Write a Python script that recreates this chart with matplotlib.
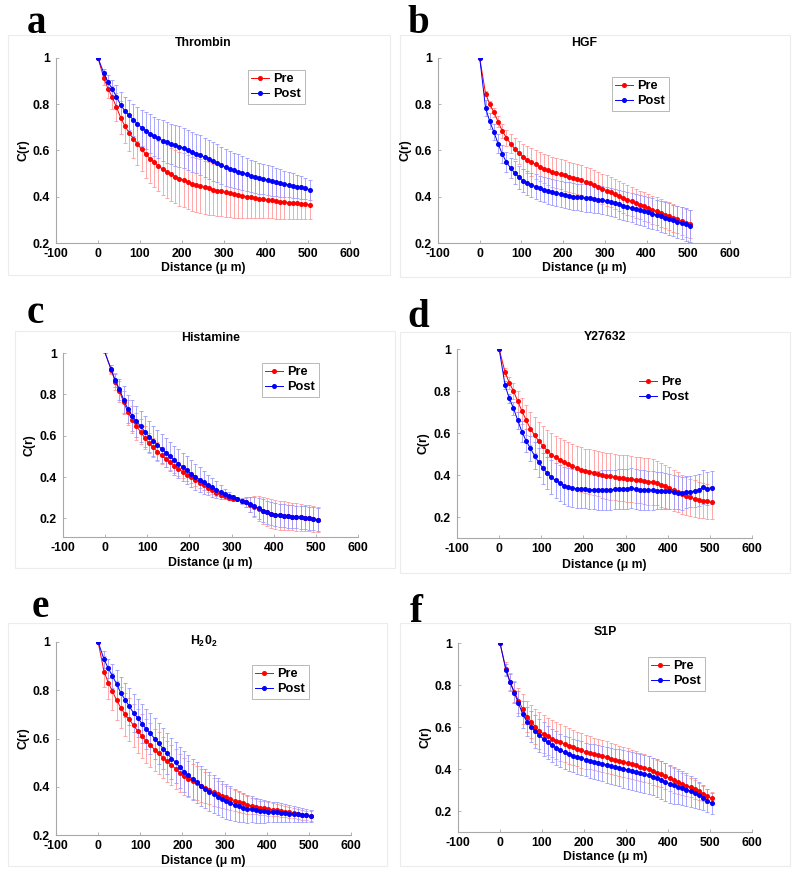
import matplotlib
matplotlib.use('Agg')
import matplotlib.pyplot as plt
from matplotlib.patches import Rectangle

plt.rcParams['font.family'] = ['Liberation Sans', 'DejaVu Sans']
plt.rcParams['font.weight'] = 'bold'
plt.rcParams['axes.unicode_minus'] = False
plt.rcParams['mathtext.fontset'] = 'custom'
plt.rcParams['mathtext.rm'] = 'Liberation Sans:bold'
plt.rcParams['mathtext.bf'] = 'Liberation Sans:bold'
plt.rcParams['mathtext.default'] = 'bf'

W, H = 795, 872

# distance grid (um)
distance = [0, 14, 24, 34, 44, 54, 64, 74, 84, 94, 104, 114, 124, 134, 144, 154, 164, 174, 184, 194, 204,
            214, 224, 234, 244, 254, 264, 274, 284, 294, 304, 314, 324, 334, 344, 354, 364, 374, 384, 394, 404,
            414, 424, 434, 444, 454, 464, 474, 484, 494, 504]

# a - Thrombin
a_pre = [1.0, 0.912, 0.867, 0.830, 0.787, 0.742, 0.706, 0.677, 0.651, 0.627, 0.605,
         0.583, 0.565, 0.549, 0.533, 0.519, 0.508, 0.497, 0.487, 0.478, 0.471,
         0.464, 0.457, 0.451, 0.446, 0.441, 0.436, 0.431, 0.427, 0.423, 0.419,
         0.415, 0.411, 0.408, 0.404, 0.401, 0.398, 0.395, 0.392, 0.389, 0.386,
         0.384, 0.381, 0.379, 0.377, 0.375, 0.373, 0.371, 0.369, 0.367, 0.366]
a_pre_err = [0, 0.03, 0.04, 0.05, 0.06, 0.07, 0.075, 0.08, 0.085, 0.09, 0.095,
             0.10, 0.104, 0.107, 0.11, 0.112, 0.114, 0.115, 0.116, 0.117, 0.117,
             0.117, 0.117, 0.116, 0.116, 0.115, 0.114, 0.112, 0.11, 0.108, 0.106,
             0.104, 0.102, 0.10, 0.098, 0.095, 0.092, 0.089, 0.086, 0.083, 0.08,
             0.078, 0.076, 0.074, 0.072, 0.07, 0.068, 0.066, 0.064, 0.063, 0.062]
a_post = [1.0, 0.934, 0.895, 0.867, 0.832, 0.797, 0.771, 0.752, 0.733, 0.715, 0.699,
          0.686, 0.673, 0.662, 0.652, 0.643, 0.635, 0.628, 0.622, 0.616, 0.611,
          0.603, 0.595, 0.587, 0.579, 0.571, 0.562, 0.553, 0.545, 0.536, 0.527,
          0.520, 0.514, 0.508, 0.502, 0.497, 0.491, 0.486, 0.481, 0.477, 0.472,
          0.468, 0.464, 0.460, 0.456, 0.452, 0.448, 0.444, 0.440, 0.436, 0.431]
a_post_err = [0, 0.02, 0.03, 0.04, 0.05, 0.055, 0.06, 0.065, 0.07, 0.075, 0.078,
              0.081, 0.083, 0.085, 0.086, 0.087, 0.088, 0.088, 0.088, 0.088, 0.088,
              0.087, 0.087, 0.086, 0.086, 0.085, 0.084, 0.083, 0.082, 0.081, 0.08,
              0.079, 0.077, 0.076, 0.074, 0.072, 0.07, 0.069, 0.067, 0.066, 0.065,
              0.063, 0.061, 0.059, 0.057, 0.055, 0.053, 0.05, 0.048, 0.045, 0.043]

# b - HGF
b_pre = [1.0, 0.846, 0.80, 0.765, 0.725, 0.685, 0.655, 0.63, 0.608, 0.59, 0.573,
         0.56, 0.55, 0.54, 0.53, 0.522, 0.515, 0.508, 0.502, 0.497, 0.492,
         0.487, 0.482, 0.477, 0.471, 0.465, 0.458, 0.451, 0.443, 0.435, 0.427,
         0.419, 0.411, 0.403, 0.395, 0.387, 0.38, 0.372, 0.365, 0.358, 0.351,
         0.344, 0.337, 0.33, 0.323, 0.316, 0.309, 0.302, 0.295, 0.288, 0.281]
b_pre_err = [0, 0.01, 0.015, 0.02, 0.025, 0.03, 0.035, 0.04, 0.045, 0.05, 0.055,
             0.058, 0.06, 0.062, 0.063, 0.064, 0.065, 0.065, 0.065, 0.065, 0.065,
             0.065, 0.065, 0.065, 0.065, 0.065, 0.065, 0.065, 0.065, 0.065, 0.065,
             0.065, 0.065, 0.065, 0.064, 0.064, 0.063, 0.063, 0.062, 0.062, 0.061,
             0.061, 0.061, 0.06, 0.06, 0.06, 0.06, 0.06, 0.06, 0.06, 0.06]
b_post = [1.0, 0.784, 0.726, 0.68, 0.63, 0.585, 0.55, 0.524, 0.503, 0.485, 0.47,
          0.46, 0.452, 0.444, 0.437, 0.431, 0.425, 0.42, 0.415, 0.411, 0.407,
          0.404, 0.401, 0.399, 0.397, 0.395, 0.393, 0.391, 0.388, 0.385, 0.381,
          0.377, 0.372, 0.367, 0.362, 0.357, 0.352, 0.347, 0.342, 0.337, 0.332,
          0.327, 0.322, 0.316, 0.31, 0.304, 0.298, 0.292, 0.286, 0.28, 0.274]
b_post_err = [0, 0.035, 0.035, 0.035, 0.04, 0.04, 0.045, 0.045, 0.05, 0.05, 0.05,
              0.051, 0.052, 0.053, 0.054, 0.055, 0.055, 0.056, 0.056, 0.057, 0.057,
              0.058, 0.058, 0.058, 0.059, 0.059, 0.06, 0.06, 0.06, 0.06, 0.06,
              0.061, 0.061, 0.062, 0.062, 0.063, 0.063, 0.064, 0.064, 0.065, 0.065,
              0.066, 0.066, 0.067, 0.067, 0.068, 0.068, 0.069, 0.069, 0.07, 0.07]

# c - Histamine
c_pre = [1.0, 0.920, 0.862, 0.815, 0.761, 0.714, 0.677, 0.646, 0.619, 0.590, 0.564,
         0.543, 0.523, 0.505, 0.488, 0.471, 0.455, 0.440, 0.425, 0.411, 0.398,
         0.385, 0.372, 0.360, 0.348, 0.336, 0.325, 0.315, 0.306, 0.299, 0.295,
         0.292, 0.285, 0.277, 0.267, 0.257, 0.247, 0.238, 0.229, 0.222, 0.218,
         0.215, 0.213, 0.211, 0.209, 0.207, 0.205, 0.203, 0.201, 0.198, 0.193]
c_pre_err = [0, 0.02, 0.04, 0.05, 0.055, 0.06, 0.065, 0.065, 0.06, 0.055, 0.05,
             0.048, 0.045, 0.042, 0.04, 0.038, 0.036, 0.034, 0.032, 0.03, 0.028,
             0.026, 0.024, 0.022, 0.02, 0.018, 0.015, 0.012, 0.01, 0.008, 0.006,
             0.005, 0.01, 0.02, 0.035, 0.05, 0.06, 0.065, 0.068, 0.07, 0.07,
             0.07, 0.069, 0.068, 0.067, 0.066, 0.065, 0.064, 0.063, 0.062, 0.06]
c_post = [1.0, 0.922, 0.867, 0.825, 0.773, 0.729, 0.697, 0.670, 0.646, 0.620, 0.596,
          0.575, 0.555, 0.536, 0.518, 0.500, 0.482, 0.465, 0.448, 0.432, 0.416,
          0.402, 0.388, 0.375, 0.362, 0.350, 0.339, 0.328, 0.318, 0.310, 0.302,
          0.294, 0.286, 0.278, 0.268, 0.258, 0.248, 0.238, 0.229, 0.222, 0.218,
          0.215, 0.213, 0.211, 0.209, 0.207, 0.205, 0.203, 0.201, 0.198, 0.194]
c_post_err = [0, 0.02, 0.03, 0.05, 0.065, 0.07, 0.075, 0.075, 0.075, 0.074, 0.073,
              0.072, 0.071, 0.07, 0.07, 0.07, 0.07, 0.07, 0.069, 0.068, 0.066,
              0.063, 0.06, 0.055, 0.05, 0.045, 0.04, 0.033, 0.025, 0.018, 0.012,
              0.01, 0.015, 0.025, 0.035, 0.045, 0.05, 0.055, 0.056, 0.056, 0.056,
              0.056, 0.056, 0.056, 0.055, 0.055, 0.055, 0.055, 0.055, 0.055, 0.055]

# d - Y27632
d_pre = [1.0, 0.89, 0.839, 0.80, 0.752, 0.705, 0.662, 0.621, 0.59, 0.562, 0.539,
         0.516, 0.497, 0.484, 0.473, 0.46, 0.451, 0.441, 0.434, 0.426, 0.421,
         0.416, 0.411, 0.406, 0.401, 0.397, 0.393, 0.39, 0.387, 0.385, 0.383,
         0.381, 0.378, 0.375, 0.372, 0.369, 0.366, 0.361, 0.354, 0.346, 0.338,
         0.328, 0.318, 0.308, 0.30, 0.293, 0.287, 0.281, 0.277, 0.274, 0.27]
d_pre_err = [0, 0.02, 0.03, 0.04, 0.05, 0.06, 0.07, 0.08, 0.085, 0.09, 0.095,
             0.1, 0.102, 0.104, 0.105, 0.105, 0.105, 0.105, 0.105, 0.105, 0.105,
             0.106, 0.107, 0.108, 0.109, 0.11, 0.11, 0.11, 0.11, 0.11, 0.11,
             0.11, 0.11, 0.11, 0.11, 0.11, 0.108, 0.106, 0.104, 0.102, 0.1,
             0.098, 0.096, 0.094, 0.092, 0.09, 0.088, 0.086, 0.084, 0.082, 0.08]
d_post = [1.0, 0.828, 0.765, 0.718, 0.661, 0.606, 0.563, 0.527, 0.492, 0.46, 0.432,
          0.41, 0.389, 0.374, 0.363, 0.35, 0.342, 0.337, 0.334, 0.332, 0.331,
          0.33, 0.329, 0.328, 0.328, 0.329, 0.33, 0.331, 0.332, 0.333, 0.335,
          0.336, 0.333, 0.33, 0.329, 0.328, 0.327, 0.326, 0.325, 0.324, 0.322,
          0.32, 0.316, 0.313, 0.318, 0.321, 0.323, 0.327, 0.343, 0.335, 0.34]
d_post_err = [0, 0.02, 0.02, 0.03, 0.04, 0.05, 0.055, 0.06, 0.065, 0.07, 0.075,
              0.078, 0.081, 0.084, 0.087, 0.09, 0.09, 0.09, 0.09, 0.09, 0.09,
              0.091, 0.092, 0.093, 0.094, 0.095, 0.095, 0.095, 0.095, 0.095, 0.095,
              0.095, 0.095, 0.095, 0.094, 0.093, 0.092, 0.09, 0.088, 0.086, 0.084,
              0.082, 0.08, 0.078, 0.076, 0.075, 0.075, 0.076, 0.08, 0.08, 0.08]

# e - H2O2
e_pre = [1.0, 0.877, 0.832, 0.795, 0.758, 0.727, 0.700, 0.679, 0.654, 0.631, 0.610,
         0.590, 0.573, 0.553, 0.538, 0.521, 0.505, 0.490, 0.474, 0.457, 0.443,
         0.433, 0.423, 0.414, 0.405, 0.396, 0.387, 0.379, 0.371, 0.363, 0.356,
         0.349, 0.343, 0.337, 0.331, 0.325, 0.321, 0.317, 0.313, 0.31, 0.308,
         0.305, 0.303, 0.30, 0.297, 0.295, 0.291, 0.287, 0.284, 0.281, 0.278]
e_pre_err = [0, 0.065, 0.07, 0.075, 0.08, 0.085, 0.088, 0.09, 0.09, 0.09, 0.09,
             0.09, 0.09, 0.088, 0.087, 0.086, 0.085, 0.083, 0.082, 0.08, 0.078,
             0.075, 0.072, 0.07, 0.067, 0.064, 0.06, 0.057, 0.054, 0.05, 0.048,
             0.045, 0.043, 0.04, 0.038, 0.036, 0.034, 0.032, 0.03, 0.029, 0.028,
             0.027, 0.026, 0.025, 0.024, 0.023, 0.022, 0.021, 0.02, 0.02, 0.02]
e_post = [1.0, 0.928, 0.891, 0.859, 0.825, 0.788, 0.761, 0.733, 0.706, 0.685, 0.662,
          0.640, 0.621, 0.599, 0.580, 0.558, 0.539, 0.517, 0.501, 0.480, 0.463,
          0.447, 0.432, 0.418, 0.404, 0.392, 0.38, 0.369, 0.359, 0.349, 0.34,
          0.332, 0.325, 0.319, 0.313, 0.308, 0.307, 0.303, 0.30, 0.298, 0.297,
          0.295, 0.294, 0.292, 0.29, 0.289, 0.287, 0.285, 0.283, 0.281, 0.278]
e_post_err = [0, 0.035, 0.04, 0.05, 0.06, 0.065, 0.07, 0.075, 0.078, 0.08, 0.082,
              0.083, 0.084, 0.085, 0.085, 0.085, 0.085, 0.085, 0.085, 0.085, 0.085,
              0.085, 0.085, 0.084, 0.083, 0.082, 0.08, 0.078, 0.076, 0.074, 0.072,
              0.07, 0.067, 0.064, 0.061, 0.058, 0.055, 0.052, 0.05, 0.047, 0.045,
              0.043, 0.041, 0.039, 0.037, 0.035, 0.033, 0.031, 0.029, 0.027, 0.025]

# f - S1P
f_pre = [1.0, 0.878, 0.815, 0.768, 0.725, 0.686, 0.65, 0.626, 0.602, 0.583, 0.566,
         0.555, 0.544, 0.535, 0.527, 0.519, 0.511, 0.503, 0.495, 0.489, 0.482,
         0.477, 0.472, 0.466, 0.461, 0.456, 0.45, 0.445, 0.439, 0.434, 0.428,
         0.423, 0.417, 0.411, 0.405, 0.398, 0.39, 0.382, 0.374, 0.366, 0.356,
         0.346, 0.336, 0.327, 0.32, 0.312, 0.303, 0.293, 0.282, 0.27, 0.26]
f_pre_err = [0, 0.03, 0.04, 0.05, 0.06, 0.07, 0.075, 0.08, 0.085, 0.088, 0.09,
             0.09, 0.089, 0.088, 0.087, 0.086, 0.085, 0.084, 0.083, 0.082, 0.08,
             0.079, 0.078, 0.077, 0.076, 0.075, 0.074, 0.073, 0.072, 0.071, 0.07,
             0.069, 0.068, 0.067, 0.066, 0.065, 0.064, 0.063, 0.062, 0.061, 0.06,
             0.058, 0.055, 0.052, 0.05, 0.047, 0.044, 0.04, 0.036, 0.033, 0.03]
f_post = [1.0, 0.871, 0.812, 0.763, 0.713, 0.661, 0.626, 0.602, 0.579, 0.56, 0.542,
          0.527, 0.512, 0.5, 0.489, 0.479, 0.471, 0.464, 0.457, 0.451, 0.445,
          0.44, 0.435, 0.43, 0.425, 0.42, 0.415, 0.41, 0.405, 0.4, 0.395,
          0.39, 0.385, 0.38, 0.376, 0.371, 0.364, 0.356, 0.347, 0.338, 0.33,
          0.323, 0.316, 0.309, 0.302, 0.294, 0.285, 0.275, 0.263, 0.25, 0.236]
f_post_err = [0, 0.03, 0.04, 0.05, 0.06, 0.065, 0.07, 0.075, 0.078, 0.08, 0.08,
              0.08, 0.08, 0.08, 0.08, 0.08, 0.08, 0.08, 0.08, 0.08, 0.08,
              0.081, 0.082, 0.083, 0.084, 0.085, 0.086, 0.087, 0.088, 0.089, 0.09,
              0.09, 0.09, 0.09, 0.09, 0.09, 0.09, 0.09, 0.09, 0.09, 0.09,
              0.088, 0.085, 0.082, 0.079, 0.075, 0.07, 0.065, 0.06, 0.055, 0.05]

xticks = [-100, 0, 100, 200, 300, 400, 500, 600]
xticklabels = ['-100', '0', '100', '200', '300', '400', '500', '600']
yticks = [0.2, 0.4, 0.6, 0.8, 1.0]
yticklabels = ['0.2', '0.4', '0.6', '0.8', '1']

# letter, title, series, ylim bottom, axes box (l, r, top, bottom px),
# letter pos, title y, xlabel y, ylabel x, legend pos, legend frame, panel box, hide first marker
panels = [
    ('a', 'Thrombin', (a_pre, a_pre_err, a_post, a_post_err), 0.2, (56, 350, 58, 243),
     (27, 33), 43, 268, 23, (248, 70), True, (8, 35, 390, 275), False),
    ('b', 'HGF', (b_pre, b_pre_err, b_post, b_post_err), 0.2, (438, 730, 58, 243),
     (407, 33), 43, 268, 405, (612, 77), True, (400, 35, 790, 277), False),
    ('c', 'Histamine', (c_pre, c_pre_err, c_post, c_post_err), 0.11, (63, 358, 353, 537),
     (27, 323), 338, 563, 30, (262, 363), True, (15, 331, 395, 568), True),
    ('d', 'Y27632', (d_pre, d_pre_err, d_post, d_post_err), 0.1, (457, 752, 349, 538),
     (407, 327), 337, 565, 424, (636, 373), False, (400, 332, 790, 573), False),
    ('e', 'H$_2$0$_2$', (e_pre, e_pre_err, e_post, e_post_err), 0.2, (56, 351, 642, 835),
     (32, 617), 641, 861, 23, (252, 665), True, (8, 623, 387, 866), False),
    ('f', 'S1P', (f_pre, f_pre_err, f_post, f_post_err), 0.1, (458, 752, 643, 832),
     (410, 622), 632, 857, 425, (648, 657), True, (400, 623, 790, 866), False),
]

fs = 8.8

fig = plt.figure(figsize=(W / 100, H / 100), dpi=100)
fig.patch.set_facecolor('white')

for (letter, title, series, ybot, box, lpos, ty, xly, ylx, legpos, legframe, pbox, skip0) in panels:
    l, r, top, bot = box

    # faint frame around each panel
    fig.add_artist(Rectangle((pbox[0] / W, 1 - pbox[3] / H), (pbox[2] - pbox[0]) / W, (pbox[3] - pbox[1]) / H,
                             transform=fig.transFigure, fill=False, ec='#ececec', lw=0.8))

    ax = fig.add_axes([l / W, 1 - bot / H, (r - l) / W, (bot - top) / H])
    pre, pre_err, post, post_err = series
    handles = []
    for y, err, col, ecol, lab in [(pre, pre_err, '#ff0000', '#ff9a9a', 'Pre'),
                                   (post, post_err, '#0000ff', '#9a9aff', 'Post')]:
        ax.errorbar(distance, y, yerr=err, fmt='none', ecolor=ecol, elinewidth=0.6,
                    capsize=1.6, capthick=0.6, zorder=2)
        mk = list(range(1, len(distance))) if skip0 else None
        h, = ax.plot(distance, y, '-', color=col, lw=0.7, marker='o', ms=2.6,
                     markevery=mk, label=lab, zorder=3)
        handles.append(h)

    ax.set_xlim(-100, 600)
    ax.set_ylim(ybot, 1.0)
    ax.set_xticks(xticks)
    ax.set_xticklabels(xticklabels)
    ax.set_yticks(yticks)
    ax.set_yticklabels(yticklabels)
    for s in ['top', 'right']:
        ax.spines[s].set_visible(False)
    for s in ['left', 'bottom']:
        ax.spines[s].set_color('#a8a8a8')
        ax.spines[s].set_linewidth(0.8)
    ax.tick_params(direction='in', length=2.5, width=0.6, color='#a8a8a8', labelsize=fs)
    ax.tick_params(axis='x', pad=3.5)
    ax.tick_params(axis='y', pad=4.5)
    for t in ax.get_xticklabels() + ax.get_yticklabels():
        t.set_fontweight('bold')

    leg = ax.legend(handles=handles, loc='upper left', bbox_to_anchor=(legpos[0] / W, 1 - legpos[1] / H),
                    bbox_transform=fig.transFigure, borderaxespad=0, frameon=legframe, fancybox=False,
                    prop={'weight': 'bold', 'size': 9.2}, handlelength=1.4, handletextpad=0.35,
                    borderpad=0.25, labelspacing=0.25, numpoints=1)
    if legframe:
        leg.get_frame().set_edgecolor('#999999')
        leg.get_frame().set_linewidth(0.6)

    fig.text((l + r) / 2 / W, 1 - ty / H, title, ha='center', va='center', fontsize=fs, fontweight='bold')
    fig.text((l + r) / 2 / W, 1 - xly / H, 'Distance (\u03bc m)', ha='center', va='center',
             fontsize=fs, fontweight='bold')
    fig.text(ylx / W, 1 - (top + bot) / 2 / H, 'C(r)', ha='center', va='center', rotation=90,
             fontsize=fs, fontweight='bold')
    fig.text(lpos[0] / W, 1 - lpos[1] / H, letter, ha='left', va='baseline', fontsize=28,
             fontweight='bold', family='Liberation Serif')

plt.savefig('out.png', dpi=100)
plt.close()
